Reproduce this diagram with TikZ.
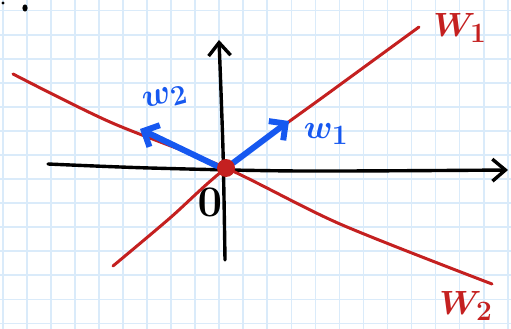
\documentclass[tikz,border=0pt]{standalone}
\usepackage{amsmath,amssymb}
\usetikzlibrary{arrows.meta}
\definecolor{sketchred}{RGB}{196,32,32}
\definecolor{sketchblue}{RGB}{22,88,240}
\definecolor{gridblue}{RGB}{218,235,250}

\begin{document}
\begin{tikzpicture}[x=1pt, y=-1pt, line cap=round, line join=round,
  gridline/.style={gridblue, line width=1.6pt},
  axisline/.style={black, line width=3.4pt, -{Straight Barb[length=13pt,width=22pt]}},
  subspace/.style={sketchred, line width=3pt},
  basisvec/.style={sketchblue, line width=6pt, -{Straight Barb[length=12pt,width=24pt]}},
  lbl/.style={font=\Huge\boldmath, scale=1.35, inner sep=0pt}]
  \useasboundingbox (0,0) rectangle (511,329);
  % grid paper
  \foreach \k in {0,...,21}
    \draw[gridline] ({2.7+24.05*\k},0) -- ({2.7+24.05*\k},329);
  \foreach \k in {0,...,13}
    \draw[gridline] (0,{10.7+24.05*\k}) -- (511,{10.7+24.05*\k});
  % stray marks
  \fill[black] (3,3) circle (1.6pt);
  \fill[black] (25,8) ellipse (2.6pt and 3.6pt);
  \coordinate (O) at (226,168);
  % axes
  \coordinate (xa) at (48,164);
  \coordinate (xb) at (508,170);
  \coordinate (ya) at (225,260);
  \coordinate (yb) at (219,40);
  \draw[axisline] plot[smooth] coordinates {(xa) (150,168) (300,171) (xb)};
  \draw[axisline] plot[smooth] coordinates {(ya) (223,150) (yb)};
  % the two lines
  \draw[subspace] plot[smooth] coordinates {(113,266) (170,218) (O) (330,92) (419,27)};
  \draw[subspace] plot[smooth] coordinates {(13,74) (110,122) (O) (340,224) (492,284)};
  % basis vectors
  \coordinate (w1a) at (233,163);
  \coordinate (w1b) at (289,121);
  \coordinate (w2a) at (217,166);
  \coordinate (w2b) at (140,129);
  \draw[basisvec] (w1a) -- (w1b);
  \draw[basisvec] (w2a) -- (w2b);
  \fill[sketchred] (O) circle (9pt);
  % labels
  \node[lbl, sketchblue] (lw1) at (326,134) {$w_1$};
  \node[lbl, sketchblue, rotate=15] (lw2) at (165,98) {$w_2$};
  \node[lbl, sketchred] (lW1) at (460,28) {$W_1$};
  \node[lbl, sketchred] (lW2) at (466,306) {$W_2$};
  \node[lbl, scale=1.3] (zero) at (210,202) {$0$};
\end{tikzpicture}
\end{document}
